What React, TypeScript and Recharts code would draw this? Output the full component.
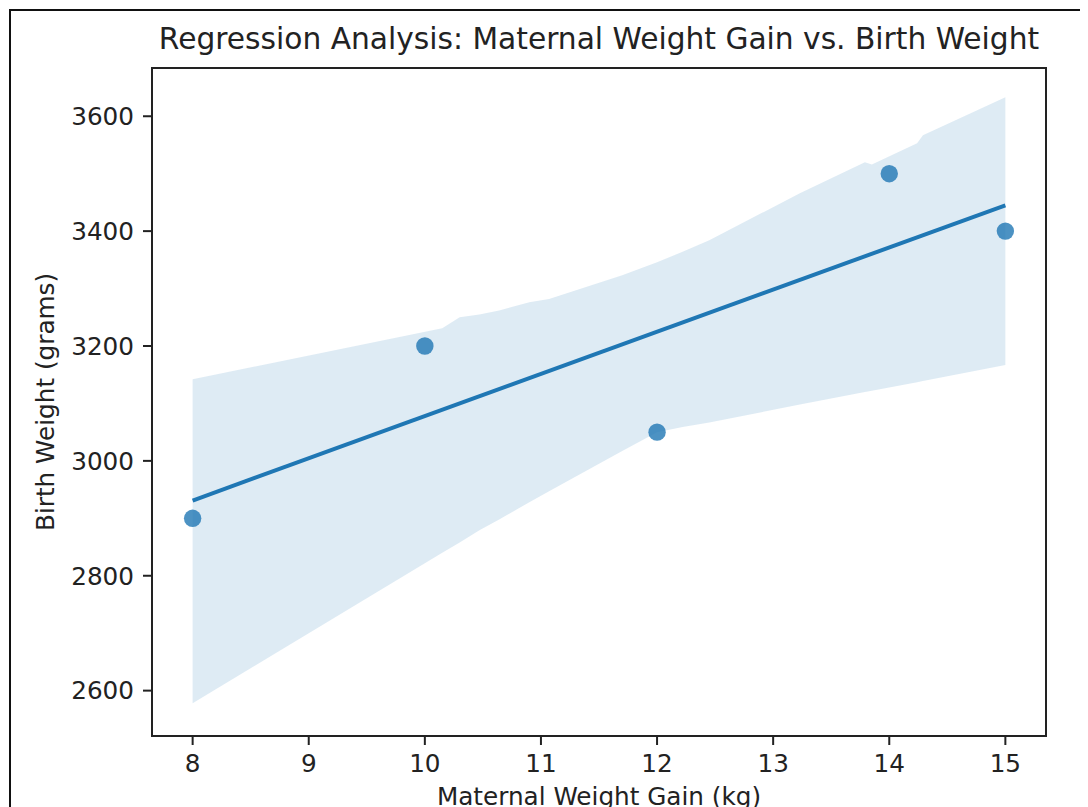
import React from "react";
import { ComposedChart, Area, Line, Scatter, XAxis, YAxis, ReferenceArea } from "recharts";

// observed points
const gainKg = [8, 10, 12, 14, 15];
const birthWeightG = [2900, 3200, 3050, 3500, 3400];

// fitted line, read at both ends
const fitX = [8, 15];
const fitY = [2931, 3445];

// confidence band (bootstrap, so a bit jagged)
const bandX = [8, 10.15, 10.3, 10.47, 10.64, 10.9, 11.07, 11.7, 12, 12.22, 12.45, 13.23, 13.79, 13.85, 14.24, 14.29, 15];
const bandLow = [2578, 2840, 2858, 2879, 2898, 2928, 2947, 3017, 3050, 3059, 3067, 3098, 3120, 3122, 3137, 3139, 3167];
const bandHigh = [3142, 3231, 3250, 3255, 3262, 3276, 3282, 3323, 3346, 3364, 3384, 3466, 3520, 3516, 3553, 3567, 3633];

const xTicks = [8, 9, 10, 11, 12, 13, 14, 15];
const yTicks = [2600, 2800, 3000, 3200, 3400, 3600];

const xDomain: [number, number] = [7.65, 15.35];
const yDomain: [number, number] = [2521, 3684];

const points = gainKg.map((x, i) => ({ x, y: birthWeightG[i] }));
const fit = fitX.map((x, i) => ({ x, y: fitY[i] }));
const band = bandX.map((x, i) => ({ x, range: [bandLow[i], bandHigh[i]] }));

const BLUE = "#1f77b4";
const INK = "#222";
const FONT = "'DejaVu Sans', sans-serif";
const tickStyle = { fontSize: 24.7, fill: INK, fontFamily: FONT };

const Dot = (props: any) => (
  <circle cx={props.cx} cy={props.cy} r={8.7} fill={BLUE} fillOpacity={0.8} />
);

export default function App() {
  return (
    <div style={{ position: "relative", width: 1080, height: 799, overflow: "hidden", fontFamily: FONT }}>
      <div
        style={{
          position: "absolute",
          left: 1,
          top: 1,
          width: 1079,
          height: 798,
          borderTop: "2px solid #111",
          borderLeft: "2px solid #111",
          boxSizing: "border-box",
        }}
      />
      <div
        style={{
          position: "absolute",
          left: 144,
          top: 16,
          width: 894,
          textAlign: "center",
          fontSize: 29.7,
          lineHeight: "30px",
          color: INK,
          whiteSpace: "nowrap",
        }}
      >
        Regression Analysis: Maternal Weight Gain vs. Birth Weight
      </div>
      <ComposedChart width={1080} height={799} data={band} margin={{ top: 60, right: 42, bottom: 0, left: 0 }}>
        <XAxis
          dataKey="x"
          type="number"
          domain={xDomain}
          ticks={xTicks}
          allowDataOverflow
          height={71}
          tickSize={9}
          tickMargin={9}
          tick={tickStyle}
          stroke={INK}
          strokeWidth={2}
          label={{ value: "Maternal Weight Gain (kg)", position: "insideBottom", offset: 2, style: { ...tickStyle } }}
        />
        <YAxis
          type="number"
          domain={yDomain}
          ticks={yTicks}
          allowDataOverflow
          width={144}
          tickSize={9}
          tickMargin={9}
          tick={tickStyle}
          stroke={INK}
          strokeWidth={2}
          label={{
            value: "Birth Weight (grams)",
            angle: -90,
            position: "insideLeft",
            offset: 37,
            style: { ...tickStyle, textAnchor: "middle" },
          }}
        />
        <Area
          dataKey="range"
          type="linear"
          stroke="none"
          fill={BLUE}
          fillOpacity={0.15}
          isAnimationActive={false}
          dot={false}
          activeDot={false}
        />
        <Scatter data={points} dataKey="y" shape={Dot} isAnimationActive={false} />
        <Line data={fit} dataKey="y" type="linear" stroke={BLUE} strokeWidth={4} dot={false} activeDot={false} isAnimationActive={false} />
        {/* plot frame (top/right spines) */}
        <ReferenceArea
          x1={xDomain[0]}
          x2={xDomain[1]}
          y1={yDomain[0]}
          y2={yDomain[1]}
          fill="none"
          fillOpacity={0}
          stroke={INK}
          strokeWidth={2}
          ifOverflow="visible"
        />
      </ComposedChart>
    </div>
  );
}
